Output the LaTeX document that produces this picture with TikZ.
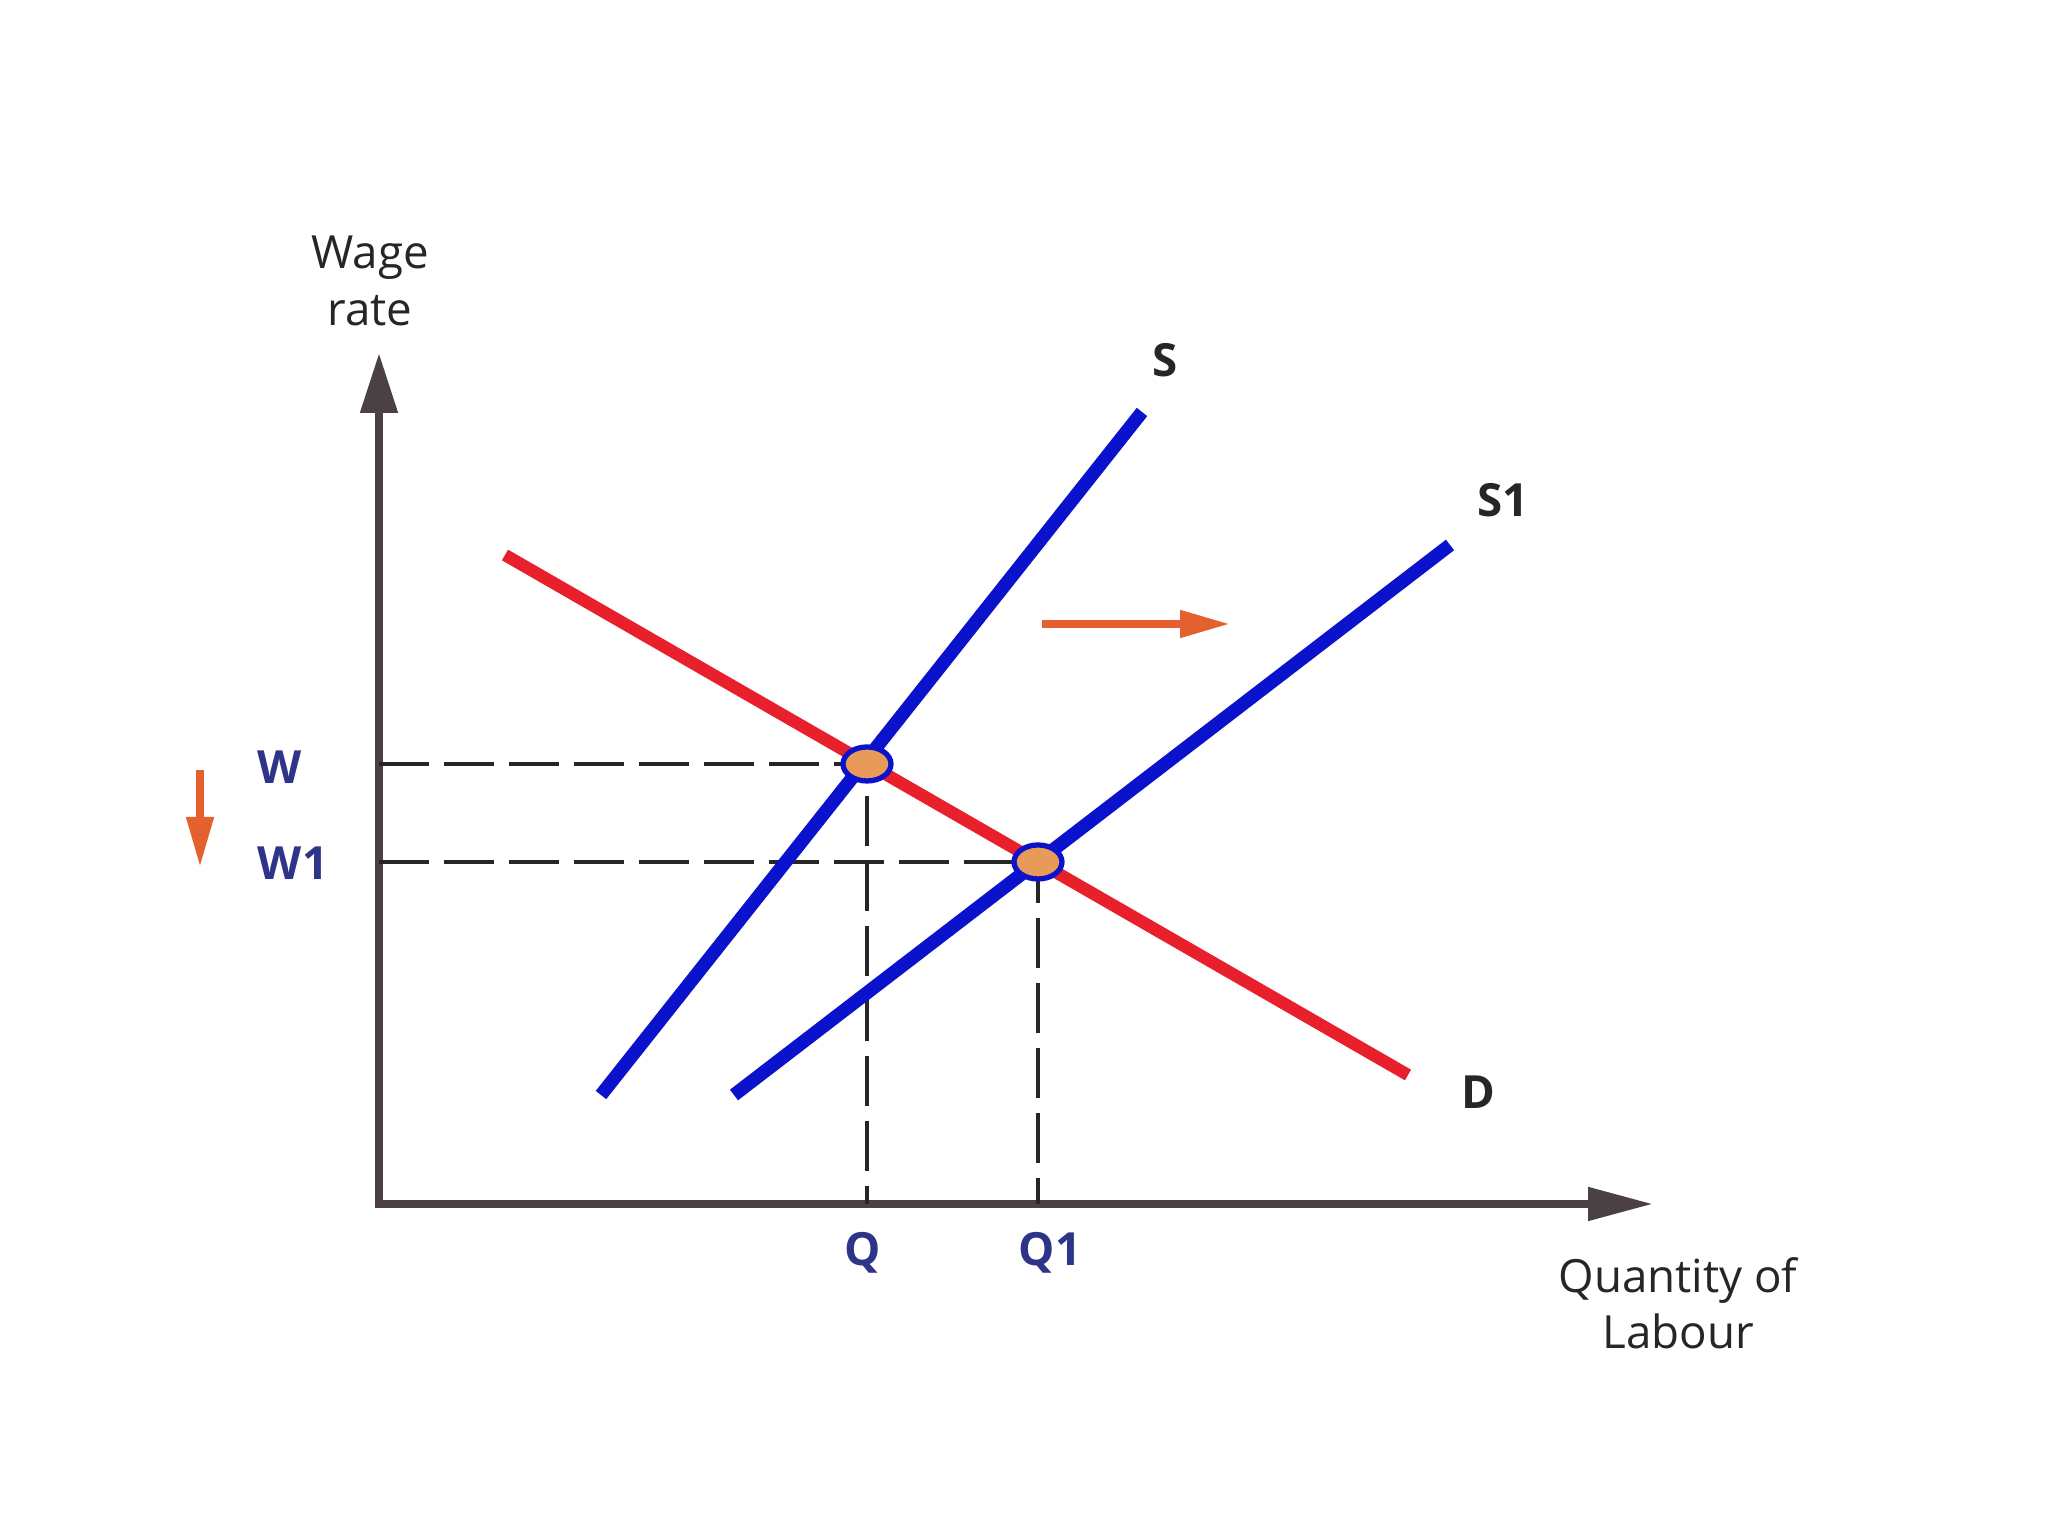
\documentclass[tikz,border=0pt]{standalone}
\usepackage{fontspec}
\setmainfont{Open Sans}
\usepackage{xcolor}
\usetikzlibrary{arrows.meta, shapes.geometric, positioning}

\definecolor{supblue}{HTML}{0A12CC}
\definecolor{demred}{HTML}{E8202C}
\definecolor{shiftorange}{HTML}{E4602E}
\definecolor{dotfill}{HTML}{E89A58}
\definecolor{axisgray}{HTML}{4B4046}
\definecolor{labnavy}{HTML}{2E3488}

\begin{document}
\begin{tikzpicture}[
  axis/.style    = {line width=2.3pt, draw=axisgray,
                    {Triangle[length=6mm, width=3.6mm]}-{Triangle[length=6.5mm, width=3.2mm]}},
  supply/.style  = {line width=3.8pt, draw=supblue},
  demand/.style  = {line width=3.5pt, draw=demred},
  guide/.style   = {line width=1.1pt, draw=black!85, dash pattern=on 0.5cm off 0.15cm},
  shiftarr/.style= {line width=2.2pt, draw=shiftorange,
                    -{Triangle[length=5mm, width=2.6mm]}},
  eqdot/.style   = {ellipse, draw=supblue, fill=dotfill, line width=1.5pt,
                    minimum width=0.48cm, minimum height=0.34cm, inner sep=0pt},
  axlabel/.style = {font=\fontsize{13}{16}\selectfont, align=center, text=black!85},
  vallabel/.style= {font=\fontsize{13}{15}\selectfont\bfseries, text=labnavy},
  curvelabel/.style = {font=\fontsize{13}{15}\selectfont\bfseries, text=black!85},
]
\useasboundingbox (0,0) rectangle (20.48,15.36);

%% ── Axes ────────────────────────────────────────────────────────────────
\coordinate (O)    at (3.79,3.32);
\coordinate (ytop) at (3.79,11.83);
\coordinate (xend) at (16.53,3.32);
\draw[axis] (ytop) |- (xend);

%% ── Curve end points and equilibria ─────────────────────────────────────
\coordinate (s0)  at (6.01,4.41);
\coordinate (s1)  at (11.42,11.24);
\coordinate (sa0) at (7.34,4.41);
\coordinate (sa1) at (14.50,9.91);
\coordinate (d0)  at (5.05,9.81);
\coordinate (d1)  at (14.08,4.61);
\coordinate (E)   at (8.67,7.72);
\coordinate (E1)  at (10.38,6.74);

%% ── Dashed guides ───────────────────────────────────────────────────────
\draw[guide] (O |- E)  -- (E)  -- (E |- O);
\draw[guide] (O |- E1) -- (E1) -- (E1 |- O);

%% ── Curves ──────────────────────────────────────────────────────────────
\draw[supply] (s0)  -- (s1);
\draw[supply] (sa0) -- (sa1);
\draw[demand] (d0)  -- (d1);

\node[eqdot] (eq)  at (E)  {};
\node[eqdot] (eq1) at (E1) {};

%% ── Labels ──────────────────────────────────────────────────────────────
\node[axlabel]    (ylab) at (3.70,12.55) {Wage\\rate};
\node[axlabel]    (xlab) at (16.78,2.33) {Quantity of\\Labour};
\node[vallabel]   (w)    at (2.80,7.69)  {W};
\node[vallabel]   (w1)   at (2.93,6.73)  {W1};
\node[vallabel]   (q)    at (8.63,2.83)  {Q};
\node[vallabel]   (q1)   at (10.50,2.83) {Q1};
\node[curvelabel] (slab) at (11.65,11.76) {S};
\node[curvelabel] (s1lab) at (15.03,10.36) {S1};
\node[curvelabel] (dlab) at (14.78,4.44) {D};

%% ── Shift arrows ────────────────────────────────────────────────────────
\coordinate (wtop) at (2.00,7.66);
\coordinate (wbot) at (2.00,6.69);
\draw[shiftarr] (wtop) -- (wbot);
\coordinate (rstart) at (10.42,9.12);
\coordinate (rend)   at (12.30,9.12);
\draw[shiftarr] (rstart) -- (rend);

\end{tikzpicture}
\end{document}
